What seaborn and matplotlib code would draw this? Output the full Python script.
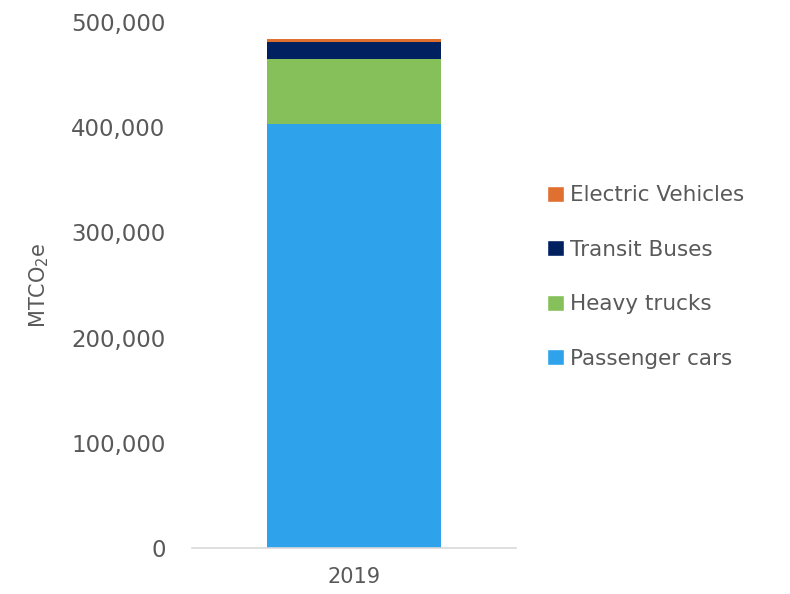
import numpy as np
import pandas as pd
import matplotlib.pyplot as plt
import seaborn as sns
from matplotlib.patches import Patch
from matplotlib.ticker import FuncFormatter

# data
year = ["2019"]
categories = ["Passenger cars", "Heavy trucks", "Transit Buses", "Electric Vehicles"]
values = [403000, 61500, 16800, 2500]
colors = ["#2EA3EC", "#86C05A", "#002060", "#E07030"]

sns.set_theme(style="white")
plt.rcParams['font.family'] = ['DejaVu Sans']
grey = "#595959"

fig = plt.figure(figsize=(7.9, 5.94), dpi=100)
ax = fig.add_axes([192/790, 1 - 548/594, 324/790, 526/594])

# stacked bar drawn as overlapping cumulative totals, tallest first
cum = np.cumsum(values)
for i in range(len(values) - 1, -1, -1):
    df = pd.DataFrame({"year": year, "value": [cum[i]]})
    sns.barplot(data=df, x="year", y="value", color=colors[i], width=0.534,
                saturation=1, ax=ax, edgecolor="none")

ax.set_ylim(0, 500000)
ax.set_xlim(-0.5, 0.5)
ax.set_yticks(np.arange(0, 500001, 100000))
ax.yaxis.set_major_formatter(FuncFormatter(lambda v, p: f"{int(v):,}"))
ax.tick_params(axis="y", labelsize=16.5, labelcolor=grey, length=0, pad=19)
ax.tick_params(axis="x", labelsize=15, labelcolor=grey, length=0, pad=14)
ax.set_xlabel("")
ax.set_ylabel("MTCO$_2$e", fontsize=15, color=grey)
ax.yaxis.set_label_coords(-0.435, 0.5)

for s in ["top", "right", "left"]:
    ax.spines[s].set_visible(False)
ax.spines["bottom"].set_color("#D9D9D9")
ax.spines["bottom"].set_linewidth(1.2)

handles = [Patch(facecolor=colors[i], label=categories[i]) for i in range(len(values) - 1, -1, -1)]
fig.legend(handles=handles, loc="center left", bbox_to_anchor=(528/790, 1 - 277/594),
           frameon=False, fontsize=15.5, labelcolor=grey, handlelength=0.75,
           handleheight=0.75, handletextpad=0.3, labelspacing=1.6)

fig.savefig("out.png", dpi=100, facecolor="white")
